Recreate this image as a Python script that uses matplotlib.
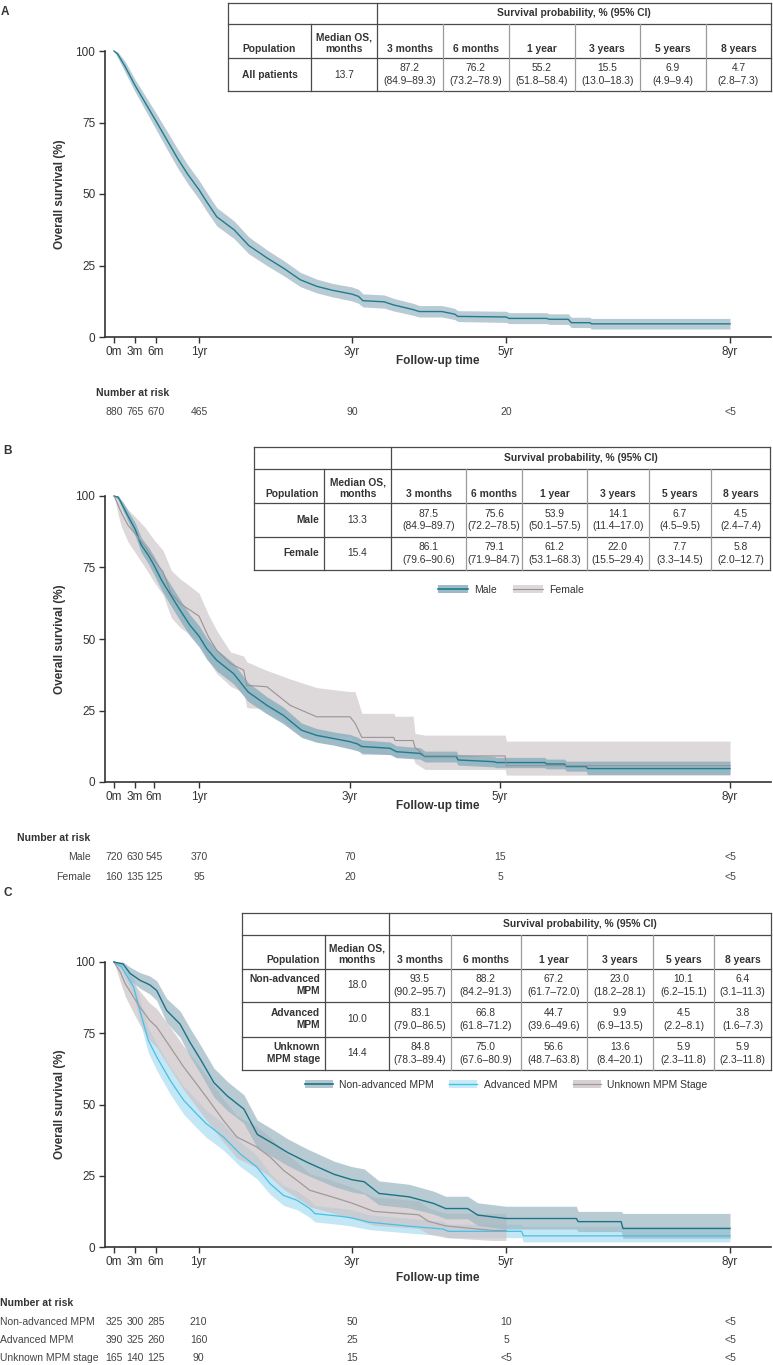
import numpy as np
import matplotlib.pyplot as plt
from matplotlib.patches import Patch
from matplotlib.lines import Line2D
from matplotlib.transforms import blended_transform_factory

plt.rcParams['font.family'] = ['Liberation Sans', 'DejaVu Sans']

W, H = 773, 1365

# ---- x axis ticks (months) ----
tick_months = [0, 3, 6, 12, 36, 60, 96]
tick_labels = ['0m', '3m', '6m', '1yr', '3yr', '5yr', '8yr']
surv_cols = ['3 months', '6 months', '1 year', '3 years', '5 years', '8 years']

# ---- panel A: all patients ----
a_t = [0, 0.5, 1.6, 3, 4.2, 6, 7.5, 9, 10.4, 12, 13.2, 14.8, 17.5, 19.8, 22.7, 25.3, 27.9, 30.5, 33, 36,
       37, 37.7, 41, 42.5, 45.5, 46.5, 50, 52, 52.5, 60, 60.5, 66.5, 67, 70, 70.5, 73.5, 73.7, 96]
a_s = [100, 99, 94.5, 88, 83, 75.5, 69, 62.5, 57, 51.5, 47.3, 42, 37.5, 32, 27.6, 24, 20, 17.7, 16.3, 15,
       14.2, 12.7, 12.3, 11.2, 9.6, 8.9, 8.9, 8.0, 7.2, 7.0, 6.5, 6.5, 6.2, 6.2, 5.0, 5.0, 4.6, 4.6]
a_lo = [100, 97.8, 92.5, 85.8, 80.5, 72.6, 65.8, 59.2, 53.7, 48.2, 44.0, 38.8, 34.4, 29.1, 24.9, 21.4, 17.6, 15.4, 14, 12.6,
        11.8, 10.5, 10.1, 9.1, 7.6, 7.0, 7.0, 6.1, 5.4, 5.1, 4.7, 4.7, 4.4, 4.4, 3.3, 3.3, 2.8, 2.8]
a_hi = [100, 99.8, 96.3, 90.1, 85.4, 78.3, 72.1, 65.8, 60.3, 54.8, 50.6, 45.2, 40.6, 35, 30.4, 26.7, 22.6, 20.2, 18.7, 17.5,
        16.7, 15.1, 14.7, 13.5, 11.8, 11.0, 11.0, 10.0, 9.2, 9.0, 8.5, 8.5, 8.1, 8.1, 6.9, 6.9, 6.5, 6.5]
a_rows = ['All patients']
a_median = ['13.7']
a_est = [['87.2', '76.2', '55.2', '15.5', '6.9', '4.7']]
a_ci = [['84.9–89.3', '73.2–78.9', '51.8–58.4', '13.0–18.3', '4.9–9.4', '2.8–7.3']]
a_risk_names = ['']
a_risk = [['880', '765', '670', '465', '90', '20', '<5']]

# ---- panel B: sex ----
bm_t = [0, 0.6, 1.3, 2.3, 3, 4, 5.1, 6, 7, 8.1, 9.5, 10.8, 12, 13.2, 14.8, 17.5, 19.8, 22.8, 25.4, 28.3,
        30.7, 33.4, 36, 37.2, 37.9, 42.4, 43.4, 47.2, 48, 53, 53.3, 59, 59.5, 67, 67.3, 70.1, 70.4, 73.5, 73.7, 96]
bm_s = [100, 99.6, 96.3, 91.6, 88.5, 82.8, 79.3, 75.8, 70.6, 65.9, 60, 54.8, 51, 46.7, 42.6, 37.9, 31.5, 26.8, 23.3, 18.1,
        16.3, 15.2, 14.1, 13.3, 12.4, 11.8, 10.6, 10, 8.9, 8.9, 7.7, 7.1, 6.8, 6.8, 6.3, 6.3, 5.4, 5.4, 4.7, 4.7]
bm_lo = [100, 98.8, 94.8, 89.6, 86.2, 80.2, 76.4, 72.6, 67.2, 62.3, 56.3, 51.1, 47.3, 43.0, 38.9, 34.3, 28.2, 23.8, 20.4, 15.6,
         13.9, 12.9, 11.6, 10.9, 10.1, 9.6, 8.5, 8.0, 7.0, 7.0, 5.9, 5.3, 5.0, 5.0, 4.6, 4.6, 3.8, 3.8, 2.6, 2.6]
bm_hi = [100, 100, 97.8, 93.6, 90.8, 85.4, 82.2, 79.0, 74.0, 69.5, 63.7, 58.5, 54.7, 50.4, 46.3, 41.5, 34.8, 29.8, 26.2, 20.6,
         18.7, 17.5, 16.6, 15.7, 14.7, 14.0, 12.7, 12.0, 10.8, 10.8, 9.5, 8.9, 8.6, 8.6, 8.0, 8.0, 7.3, 7.3, 7.3, 7.3]
bf_t = [0, 0.5, 0.8, 1.1, 2, 3, 4.6, 6, 7.2, 8.3, 9.5, 10.8, 12, 13.5, 14.8, 17, 19.1, 19.6, 22.8, 26.5,
        30.7, 36, 36.8, 37.9, 43, 43.2, 46.1, 46.4, 48, 60.8, 61, 96]
bf_s = [100, 97.4, 95.6, 93.9, 89.8, 86.9, 82.3, 77.6, 73.5, 65.9, 62.4, 60.1, 58, 50.8, 46.1, 41.4, 39.1, 33.8, 33.3, 26.8,
        22.8, 22.8, 20.6, 15.6, 15.6, 14.5, 14.5, 12.1, 9.1, 9.1, 5.7, 5.7]
bf_lo = [100, 94.5, 91.5, 89, 84, 80.3, 75, 70, 65.5, 57.5, 54, 51.5, 49.5, 42.5, 38, 33.5, 31.3, 26, 25.6, 19.5,
         16, 16, 14, 9.6, 9.6, 8.7, 8.7, 6.6, 4.4, 4.4, 2.4, 2.4]
bf_hi = [100, 100, 99.3, 98.3, 95.2, 92.8, 89, 84.7, 81, 74, 71, 68.5, 66, 58.5, 53, 45.5, 44, 42, 39, 36,
         33, 31.6, 31.6, 24, 24, 23, 23, 17, 16.4, 16.4, 14.3, 14.3]
b_rows = ['Male', 'Female']
b_median = ['13.3', '15.4']
b_est = [['87.5', '75.6', '53.9', '14.1', '6.7', '4.5'],
         ['86.1', '79.1', '61.2', '22.0', '7.7', '5.8']]
b_ci = [['84.9–89.7', '72.2–78.5', '50.1–57.5', '11.4–17.0', '4.5–9.5', '2.4–7.4'],
        ['79.6–90.6', '71.9–84.7', '53.1–68.3', '15.5–29.4', '3.3–14.5', '2.0–12.7']]
b_risk_names = ['Male', 'Female']
b_risk = [['720', '630', '545', '370', '70', '15', '<5'],
          ['160', '135', '125', '95', '20', '5', '<5']]

# ---- panel C: MPM stage ----
cn_t = [0, 1.3, 2.3, 3.7, 5.1, 6.1, 7.5, 9.4, 10.8, 12.4, 14.4, 16.5, 19.1, 21.2, 23.8, 25.9, 29, 33.2, 36, 37.9,
        40.2, 44.9, 48.7, 50.6, 54, 55.6, 60, 71.3, 71.6, 78.5, 78.8, 96]
cn_s = [100, 99.3, 96, 93.6, 92, 90, 83, 78.2, 71.8, 65.5, 57.7, 53, 48.4, 39.5, 36.1, 33.2, 29.7, 25.5, 23.6, 22.9,
        18.8, 17.6, 15.3, 13.5, 13.5, 11.2, 10, 10, 8.9, 8.9, 6.5, 6.5]
cn_lo = [100, 98, 93.5, 90.8, 88.8, 86.5, 78.8, 73.5, 66.8, 60.5, 52.6, 47.9, 43.4, 34.7, 31.4, 28.6, 25.2, 21.2, 19.3, 18.6,
         14.8, 13.7, 11.6, 9.9, 9.9, 7.6, 6.3, 6.3, 5.4, 5.4, 3.1, 3.1]
cn_hi = [100, 100, 98.2, 96.3, 95.1, 93.4, 87.2, 82.8, 76.8, 70.5, 62.8, 58.1, 53.4, 44.5, 41.0, 38.0, 34.4, 30.1, 28.2, 27.4,
         23.2, 22.0, 19.6, 17.8, 17.8, 15.5, 14.3, 14.3, 12.5, 12.5, 11.8, 11.8]
ca_t = [0, 1.1, 2.8, 3.7, 4.9, 6.1, 8, 9.9, 11.7, 13.2, 15.9, 18.5, 21.1, 23.2, 25.3, 27.4, 29.4, 30.2, 34.1, 36,
        38.7, 44.9, 50.2, 51, 62.5, 62.8, 96]
ca_s = [100, 98.2, 91.2, 83, 72.5, 66.7, 58.5, 51.5, 46.8, 43.3, 38.6, 32.7, 28.1, 22.2, 18.1, 16.4, 13.5, 11.7, 10.8, 10.2,
        8.7, 7.3, 6.3, 5.5, 5.5, 3.9, 3.9]
ca_lo = [100, 96.8, 87.8, 79.3, 68.2, 62, 53.7, 46.6, 41.9, 38.5, 34, 28.3, 24, 18.5, 14.6, 13.1, 10.4, 8.8, 7.9, 7.3,
         6.1, 4.9, 4.0, 3.3, 3.3, 1.8, 1.8]
ca_hi = [100, 99.5, 94.4, 86.7, 76.8, 71.4, 63.3, 56.4, 51.7, 48.1, 43.2, 37.1, 32.2, 25.9, 21.6, 19.7, 16.6, 14.6, 13.7, 13.1,
         11.3, 10.1, 9.0, 8.0, 8.0, 7.3, 7.3]
cu_t = [0, 0.9, 1.6, 2.8, 3.7, 5.1, 6.1, 8, 9.9, 11.7, 13.6, 15.9, 18, 21.1, 23.2, 25.3, 27.4, 29.4, 33, 36,
        39.4, 46.4, 47.9, 50.6, 57.9, 60]
cu_s = [100, 96.5, 92.4, 87.7, 84.2, 79.5, 77.2, 70.2, 63.2, 57.3, 51.5, 44.4, 38.6, 35.1, 31.6, 26.9, 23.4, 19.9, 17.5, 15.4,
        12.5, 11.3, 9, 7.4, 5.8, 5.8]
cu_lo = [100, 93, 88, 82, 78, 72.5, 70, 62.5, 55.2, 49.2, 43.5, 36.8, 31.2, 27.9, 24.6, 20.3, 17.2, 14.1, 11.9, 10.0,
         7.6, 6.5, 4.6, 3.3, 2.3, 2.3]
cu_hi = [100, 99, 96.2, 92.6, 89.7, 85.6, 83.6, 77.2, 70.5, 64.9, 59.1, 51.9, 46.1, 42.3, 38.6, 33.6, 29.8, 25.8, 23.3, 21.0,
         17.6, 16.2, 13.7, 11.9, 11.8, 11.8]
c_rows = ['Non-advanced\nMPM', 'Advanced\nMPM', 'Unknown\nMPM stage']
c_median = ['18.0', '10.0', '14.4']
c_est = [['93.5', '88.2', '67.2', '23.0', '10.1', '6.4'],
         ['83.1', '66.8', '44.7', '9.9', '4.5', '3.8'],
         ['84.8', '75.0', '56.6', '13.6', '5.9', '5.9']]
c_ci = [['90.2–95.7', '84.2–91.3', '61.7–72.0', '18.2–28.1', '6.2–15.1', '3.1–11.3'],
        ['79.0–86.5', '61.8–71.2', '39.6–49.6', '6.9–13.5', '2.2–8.1', '1.6–7.3'],
        ['78.3–89.4', '67.6–80.9', '48.7–63.8', '8.4–20.1', '2.3–11.8', '2.3–11.8']]
c_risk_names = ['Non-advanced MPM', 'Advanced MPM', 'Unknown MPM stage']
c_risk = [['325', '300', '285', '210', '50', '10', '<5'],
          ['390', '325', '260', '160', '25', '5', '<5'],
          ['165', '140', '125', '90', '15', '<5', '<5']]

TEAL = '#1d7d8e'
DARK = '#333333'

fig = plt.figure(figsize=(W / 100, H / 100), dpi=100)
ov = fig.add_axes([0, 0, 1, 1], zorder=5)
ov.set_xlim(0, W)
ov.set_ylim(H, 0)
ov.axis('off')


def make_axes(top, bottom, tick_px, xlab_y):
    ax = fig.add_axes([105 / W, 1 - bottom / H, (771 - 105) / W, (bottom - top) / H])
    km = [-12] + tick_months + [120]
    kp = [tick_px[0] - 84] + tick_px + [tick_px[-1] + 150]
    fwd = lambda m: np.interp(m, km, kp)
    inv = lambda p: np.interp(p, kp, km)
    ax.set_xscale('function', functions=(fwd, inv))
    ax.set_xlim(inv(105), inv(771))
    ax.set_ylim(0, 100)
    for s in ['top', 'right']:
        ax.spines[s].set_visible(False)
    for s in ['left', 'bottom']:
        ax.spines[s].set_color(DARK)
        ax.spines[s].set_linewidth(1.2)
    ax.set_xticks(tick_months)
    ax.set_xticklabels(tick_labels)
    ax.set_yticks([0, 25, 50, 75, 100])
    ax.tick_params(axis='both', length=4.5, width=1, color=DARK, labelsize=8.5, labelcolor=DARK)
    ax.tick_params(axis='x', pad=2)
    ax.tick_params(axis='y', pad=2.5)
    ax.minorticks_off()
    ax.set_ylabel('Overall survival (%)', fontsize=8.5, fontweight='bold', color=DARK, va='center')
    ax.yaxis.set_label_coords(-45 / 666, 0.5)
    ax.set_xlabel('Follow-up time', fontsize=8.5, fontweight='bold', color=DARK, va='center')
    ax.xaxis.set_label_coords(0.5, -(xlab_y - bottom) / (bottom - top))
    return ax


def curve(ax, t, s, lo, hi, line, band, lw=1.0, alpha=1.0):
    ax.fill_between(t, lo, hi, color=band, alpha=alpha, lw=0, zorder=1)
    ax.plot(t, s, color=line, lw=lw, zorder=3, clip_on=False)


def table(cols, rows, names, medians, est, ci, name_align):
    fs = 7.4
    x0, x1 = cols[0], cols[-1]
    for y in rows:
        ov.plot([x0, x1], [y, y], color='#4a4a4a', lw=0.9)
    for x in [cols[0], cols[2], cols[-1]]:
        ov.plot([x, x], [rows[0], rows[-1]], color='#4a4a4a', lw=0.9)
    ov.plot([cols[1], cols[1]], [rows[1], rows[-1]], color='#4a4a4a', lw=0.9)
    for x in cols[3:-1]:
        ov.plot([x, x], [rows[1], rows[-1]], color='#9a9a9a', lw=0.9)
    ov.text((cols[2] + cols[-1]) / 2, (rows[0] + rows[1]) / 2, 'Survival probability, % (95% CI)',
            ha='center', va='center', fontsize=fs, fontweight='bold', color=DARK)
    hy = rows[2] - 4
    if name_align == 'center':
        nx, ha = (cols[0] + cols[1]) / 2, 'center'
    else:
        nx, ha = cols[1] - 5, 'right'
    ov.text(nx, hy, 'Population', ha=ha, va='bottom', fontsize=fs, fontweight='bold', color=DARK)
    ov.text((cols[1] + cols[2]) / 2, hy, 'Median OS,\nmonths', ha='center', va='bottom', fontsize=fs,
            fontweight='bold', color=DARK, linespacing=1.2)
    for j, c in enumerate(surv_cols):
        ov.text((cols[3 + j - 1] + cols[3 + j]) / 2, hy, c, ha='center', va='bottom', fontsize=fs,
                fontweight='bold', color=DARK)
    for i, name in enumerate(names):
        yc = (rows[2 + i] + rows[3 + i]) / 2
        ov.text(nx, yc, name, ha=ha, va='center', fontsize=fs, fontweight='bold', color=DARK,
                multialignment='right' if ha == 'right' else 'center', linespacing=1.25)
        ov.text((cols[1] + cols[2]) / 2, yc, medians[i], ha='center', va='center', fontsize=fs, color=DARK)
        for j in range(6):
            ov.text((cols[2 + j] + cols[3 + j]) / 2, yc, est[i][j] + '\n(' + ci[i][j] + ')',
                    ha='center', va='center', fontsize=fs, color=DARK, linespacing=1.3)


def risk(ax, head_xy, row_ys, names, counts, name_x, name_ha):
    ov.text(head_xy[0], head_xy[1], 'Number at risk', ha='left', va='center', fontsize=7.5,
            fontweight='bold', color=DARK)
    tr = blended_transform_factory(ax.transData, ov.transData)
    for y, name, row in zip(row_ys, names, counts):
        if name:
            ov.text(name_x, y, name, ha=name_ha, va='center', fontsize=7.5, color='#444444')
        for m, v in zip(tick_months, row):
            ax.text(m, y, v, transform=tr, ha='center', va='center', fontsize=7.5, color='#444444',
                    clip_on=False)


def legend(ax, handles, labels, cx, cy, hl):
    ax.legend(handles, labels, loc='center', bbox_to_anchor=(cx, cy), bbox_transform=ov.transData,
              ncol=len(labels), frameon=False, fontsize=7.5, handlelength=hl, handleheight=0.8,
              handletextpad=0.6, columnspacing=1.5, borderpad=0, labelcolor=DARK)


# ---- A ----
axA = make_axes(51, 337, [114, 135, 156, 199, 352, 506, 730], 361)
curve(axA, a_t, a_s, a_lo, a_hi, TEAL, '#b8cbd4')
ov.text(1, 12, 'A', fontsize=8.5, fontweight='bold', va='center', color=DARK)
table([228, 311, 377, 443, 508.5, 574.5, 640, 706, 771], [3, 24, 58, 91],
      a_rows, a_median, a_est, a_ci, 'center')
risk(axA, (96, 393), [412], a_risk_names, a_risk, 91, 'right')

# ---- B ----
axB = make_axes(496, 782, [114, 135, 154, 199, 350, 500, 730], 806)
curve(axB, bf_t, bf_s, bf_lo, bf_hi, '#9a9395', '#ddd8da', lw=0.8)
curve(axB, bm_t, bm_s, bm_lo, bm_hi, TEAL, '#8eb0bf', alpha=0.85)
axB.lines[0].set_zorder(4)
ov.text(3, 451, 'B', fontsize=8.5, fontweight='bold', va='center', color=DARK)
table([254, 324, 391, 466, 522, 587, 649, 711, 770], [447, 469, 503, 537, 570],
      b_rows, b_median, b_est, b_ci, 'right')
legend(axB, [(Patch(fc='#9dbac7', ec='none'), Line2D([], [], color=TEAL, lw=1.2)),
             (Patch(fc='#ddd8da', ec='none'), Line2D([], [], color='#9a9395', lw=0.8))],
       ['Male', 'Female'], 511, 590, 2.9)
risk(axB, (17, 838), [857, 877], b_risk_names, b_risk, 91, 'right')

# ---- C ----
axC = make_axes(962, 1247, [114, 135, 156, 198.5, 352, 506, 730], 1278)
curve(axC, ca_t, ca_s, ca_lo, ca_hi, '#45c0e6', '#c3e7f5', lw=0.9)
curve(axC, cu_t, cu_s, cu_lo, cu_hi, '#a19a9c', '#cbc3c6', lw=0.9, alpha=0.7)
curve(axC, cn_t, cn_s, cn_lo, cn_hi, '#1a7386', '#9db7c3', lw=1.0, alpha=0.72)
ov.text(3, 893, 'C', fontsize=8.5, fontweight='bold', va='center', color=DARK)
table([242, 325, 389, 451, 520.5, 587, 653, 714, 771], [913, 935, 969, 1002, 1037, 1070],
      c_rows, c_median, c_est, c_ci, 'right')
legend(axC, [(Patch(fc='#b3c6cf', ec='none'), Line2D([], [], color='#1a7386', lw=1.2)),
             (Patch(fc='#c9ebf7', ec='none'), Line2D([], [], color='#45c0e6', lw=1.0)),
             (Patch(fc='#d6d0d2', ec='none'), Line2D([], [], color='#a19a9c', lw=0.9))],
       ['Non-advanced MPM', 'Advanced MPM', 'Unknown MPM Stage'], 506, 1085, 2.7)
risk(axC, (0, 1303), [1322, 1340, 1358], c_risk_names, c_risk, 0, 'left')

fig.savefig('out.png', dpi=100)
